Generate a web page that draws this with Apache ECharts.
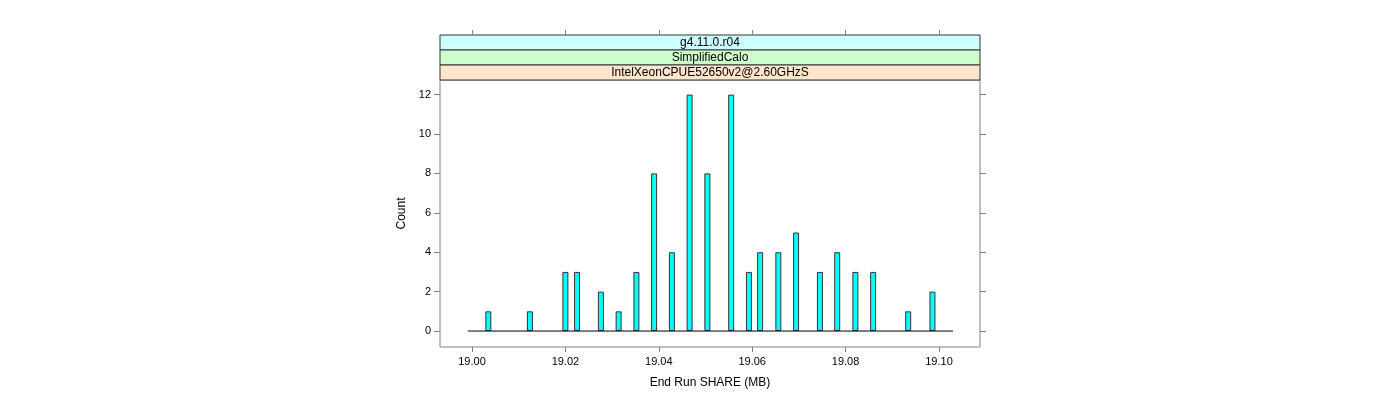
<!DOCTYPE html>
<html>
<head>
<meta charset="utf-8">
<script src="https://cdn.jsdelivr.net/npm/echarts@6/dist/echarts.min.js"></script>
<style>html,body{margin:0;padding:0;background:#fff}#c{width:1400px;height:400px}</style>
</head>
<body>
<div id="c"></div>
<script>
// Bin centres (End Run SHARE, MB) and counts
const binCenters = [19.0035, 19.0124, 19.0200, 19.0225, 19.0276, 19.0314, 19.0352, 19.0390, 19.0428, 19.0466, 19.0504,
                    19.0555, 19.0593, 19.0617, 19.0656, 19.0694, 19.0745, 19.0782, 19.0821, 19.0859, 19.0934, 19.0986];
const counts     = [1, 1, 3, 3, 2, 1, 3, 8, 4, 12, 8, 12, 3, 4, 4, 5, 3, 4, 3, 3, 1, 2];
// histogram range (baseline)
const histRange = [18.9991, 19.1030];
// tick labels
const xTicks = [19.00, 19.02, 19.04, 19.06, 19.08, 19.10];
const yTicks = [0, 2, 4, 6, 8, 10, 12];
// axis limits
const xLim = [18.99315, 19.10878];
const yLim = [-0.81, 12.74];
// strip labels (top to bottom)
const strips = ['g4.11.0.r04', 'SimplifiedCalo', 'IntelXeonCPUE52650v2@2.60GHzS'];
const stripColors = ['#ccffff', '#ccffcc', '#ffe5cc'];

const FONT = 'Liberation Sans, Arial, Helvetica, sans-serif';
const frameColor = '#808080';
const chart = echarts.init(document.getElementById('c'), null, {renderer: 'canvas'});

const gridL = 440, gridR = 980, gridT = 80, gridB = 347;
const stripTop = 35, stripH = (gridT - stripTop) / 3;

const graphics = [];
strips.forEach((s, i) => {
  graphics.push({
    type: 'rect', silent: true,
    shape: {x: gridL, y: stripTop + i * stripH, width: gridR - gridL, height: stripH},
    style: {fill: stripColors[i], stroke: '#333', lineWidth: 1}
  });
  graphics.push({
    type: 'text', silent: true,
    x: (gridL + gridR) / 2, y: stripTop + i * stripH + stripH / 2 + 0.5,
    style: {text: s, fill: '#000', font: '12px ' + FONT, align: 'center', verticalAlign: 'middle'}
  });
});

const baseXAxis = {
  type: 'value', min: xLim[0], max: xLim[1],
  splitLine: {show: false},
  axisLine: {show: false, onZero: false},
  axisTick: {show: true, inside: false, length: 5, customValues: xTicks, lineStyle: {color: frameColor}},
};
const baseYAxis = {
  type: 'value', min: yLim[0], max: yLim[1],
  splitLine: {show: false},
  axisLine: {show: false, onZero: false},
  axisTick: {show: true, inside: false, length: 6, customValues: yTicks, lineStyle: {color: frameColor}},
};

chart.setOption({
  animation: false,
  grid: {left: gridL, right: 1400 - gridR, top: gridT, bottom: 400 - gridB, show: true,
         borderColor: frameColor, borderWidth: 1, backgroundColor: 'transparent'},
  xAxis: [
    Object.assign({}, baseXAxis, {
      position: 'bottom',
      axisLabel: {show: true, customValues: xTicks, formatter: v => v.toFixed(2), color: '#000',
                  fontFamily: FONT, fontSize: 11, margin: 9},
      name: 'End Run SHARE (MB)', nameLocation: 'middle', nameGap: 30,
      nameTextStyle: {color: '#000', fontFamily: FONT, fontSize: 12}
    }),
    Object.assign({}, baseXAxis, {position: 'top', offset: gridT - stripTop, axisLabel: {show: false}})
  ],
  yAxis: [
    Object.assign({}, baseYAxis, {
      position: 'left',
      axisLabel: {show: true, customValues: yTicks, color: '#000', fontFamily: FONT, fontSize: 11, margin: 9},
      name: 'Count', nameLocation: 'middle', nameGap: 32, nameRotate: 90,
      nameTextStyle: {color: '#000', fontFamily: FONT, fontSize: 12}
    }),
    Object.assign({}, baseYAxis, {position: 'right', axisLabel: {show: false}})
  ],
  graphic: graphics,
  series: [
    {
      type: 'bar', xAxisIndex: 0, yAxisIndex: 0, barWidth: 6,
      data: binCenters.map((x, i) => [x, counts[i]]),
      itemStyle: {color: '#00ffff', borderColor: '#333333', borderWidth: 1},
      z: 2
    },
    {
      type: 'line', xAxisIndex: 0, yAxisIndex: 0, symbol: 'none',
      data: histRange.map(x => [x, 0]),
      lineStyle: {color: '#000', width: 1}, z: 3
    }
  ]
});
</script>
</body>
</html>
